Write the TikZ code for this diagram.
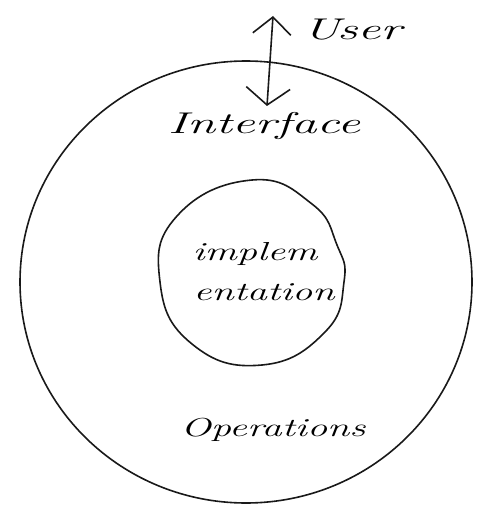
\documentclass[tikz,border=0pt]{standalone}
\usetikzlibrary{arrows.meta}
\tikzset{
  ink/.style={line width=1.6pt, draw=black!90, line cap=round, line join=round},
  hand/.style={font=\itshape\fontsize{30}{30}\selectfont, inner sep=0pt, xscale=1.7},
  handsmall/.style={font=\itshape\fontsize{26}{26}\selectfont, inner sep=0pt, xscale=1.55},
  barb/.style={ink, {Straight Barb[length=17pt,width=44pt,line width=1.6pt]}-{Straight Barb[length=17pt,width=38pt,line width=1.6pt]}}
}
\begin{document}
\begin{tikzpicture}[x=1pt,y=-1pt]
\useasboundingbox[fill=white] (0,0) rectangle (477,508);
% outer circle
\draw[ink] (246,282) ellipse [x radius=226, y radius=221];
% inner blob
\draw[ink] plot[smooth cycle, tension=0.8] coordinates {
  (252,180) (312,204) (337,245) (344,282) (325,332) (262,365) (192,344) (160,282) (177,216)};
% texts
\node[hand] (user) at (352,30) {User};
\node[hand] (iface) at (264,126) {Interface};
\node[handsmall] (impl1) at (255,254) {implem};
\node[handsmall] (impl2) at (264,292) {entation};
\node[handsmall] (ops) at (273,430) {Operations};
% double arrow
\coordinate (topend) at (273,16);
\coordinate (botend) at (267,106);
\draw[barb] (botend) -- (topend);
\end{tikzpicture}
\end{document}
